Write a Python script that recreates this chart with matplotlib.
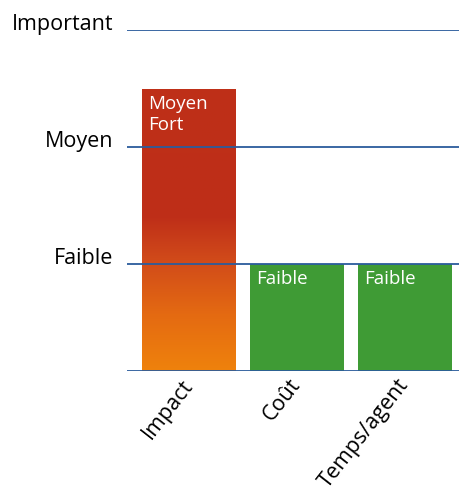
import numpy as np
import matplotlib.pyplot as plt
from matplotlib.colors import LinearSegmentedColormap

# niveaux et valeurs
levels = ['Faible', 'Moyen', 'Important']
level_values = [1, 2, 3]
categories = ['Impact', 'Coût', 'Temps/agent']
values = [2.5, 1, 1]
bar_texts = ['Moyen\nFort', 'Faible', 'Faible']

plt.rcParams['font.family'] = ['Open Sans', 'DejaVu Sans']

fig = plt.figure(figsize=(4.59, 4.91), dpi=100)
ax = fig.add_axes([127 / 459, 1 - 370.5 / 491, 332 / 459, 340.5 / 491])

x = np.arange(len(categories))
width = 0.87
y_bottom = 0.09

grad_cmap = LinearSegmentedColormap.from_list(
    'impact', [(0.0, '#EF820C'), (0.2, '#E46A12'), (0.4, '#D0491A'),
               (0.55, '#BE2E18'), (1.0, '#BF3018')])
green = '#3F9B35'

for i, (xi, v) in enumerate(zip(x, values)):
    if i == 0:
        bar = ax.bar(xi, v - y_bottom, width, bottom=y_bottom, color='none', zorder=1)[0]
        grad = np.linspace(0, 1, 256).reshape(-1, 1)
        im = ax.imshow(grad, cmap=grad_cmap, origin='lower', aspect='auto',
                       extent=[xi - width / 2, xi + width / 2, y_bottom, v], zorder=1)
        im.set_clip_path(bar)
    else:
        ax.bar(xi, v - y_bottom, width, bottom=y_bottom, color=green, zorder=1)
    ax.text(xi - width / 2 + 0.055, v - 0.055, bar_texts[i], color='white',
            fontsize=13.5, ha='left', va='top', linespacing=1.2, zorder=3)

for lv in [y_bottom] + level_values:
    ax.axhline(lv, color='#2B5C9C', lw=1.3, zorder=2)

ax.set_xlim(-0.574, 2.5)
ax.set_ylim(y_bottom, 3)
ax.set_yticks(level_values)
ax.set_yticklabels(levels, fontsize=15.5, va='baseline')
ax.set_xticks(x)
ax.set_xticklabels(categories, fontsize=15.5, rotation=52, ha='right', va='center',
                   rotation_mode='anchor')
ax.tick_params(length=0)
ax.tick_params(axis='y', pad=10)
ax.tick_params(axis='x', pad=8)
for s in ax.spines.values():
    s.set_visible(False)

fig.savefig('out.png', dpi=100)
